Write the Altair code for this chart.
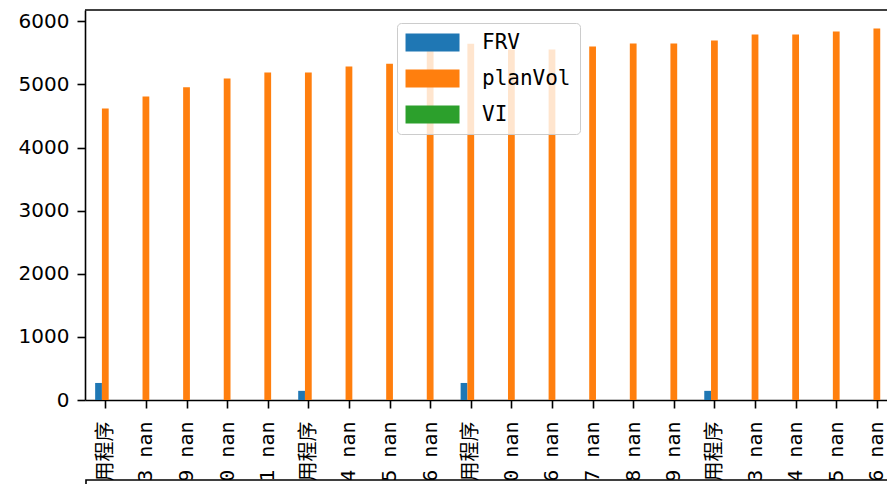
import json
import altair as alt
import pandas as pd

# ---- data ----
labels = [
    "2023-03-07 应用程序", "2023-03-13 nan", "2023-03-19 nan", "2023-03-20 nan",
    "2023-03-21 nan", "2023-03-22 应用程序", "2023-03-24 nan", "2023-03-25 nan",
    "2023-03-26 nan", "2023-03-27 应用程序", "2023-03-30 nan", "2023-04-06 nan",
    "2023-04-07 nan", "2023-04-08 nan", "2023-04-09 nan", "2023-04-10 应用程序",
    "2023-04-13 nan", "2023-04-14 nan", "2023-04-15 nan", "2023-04-16 nan",
]
frv = [270, 0, 0, 0, 0, 145, 0, 0, 0, 270, 0, 0, 0, 0, 0, 145, 0, 0, 0, 0]
plan_vol = [4620, 4810, 4955, 5095, 5190, 5190, 5285, 5330, 5560, 5645,
            5555, 5555, 5600, 5650, 5650, 5695, 5790, 5790, 5840, 5885]
vi = [0] * 20
series = ["FRV", "planVol", "VI"]
colors = ["#1f77b4", "#ff7f0e", "#2ca02c"]
y_ticks = [0, 1000, 2000, 3000, 4000, 5000, 6000]

rows = []
for i in range(len(labels)):
    for k, vals in enumerate([frv, plan_vol, vi]):
        rows.append({"idx": i, "k": k, "series": series[k], "value": vals[i]})
df = pd.DataFrame(rows)

W, H = 802, 390
label_expr = json.dumps(labels, ensure_ascii=False) + "[datum.value]"

bars = alt.Chart(df).transform_calculate(
    x0="datum.idx - 0.25 + datum.k / 6",
    x1="datum.idx - 0.25 + (datum.k + 1) / 6",
).mark_bar(strokeWidth=0).encode(
    x=alt.X("x0:Q", title=None,
            scale=alt.Scale(domain=[-0.5, 19.25], nice=False, zero=False),
            axis=alt.Axis(values=list(range(20)), labelExpr=label_expr,
                          labelAngle=270, labelFont="DejaVu Sans Mono, Noto Sans CJK SC",
                          labelFontSize=20, labelColor="black", labelPadding=13,
                          tickSize=8, tickWidth=1.6, tickColor="black",
                          domainColor="black", domainWidth=1.6, grid=False,
                          labelOverlap=False, labelLimit=0)),
    x2="x1:Q",
    y=alt.Y("value:Q", title=None,
            scale=alt.Scale(domain=[0, 6180], nice=False),
            axis=alt.Axis(values=y_ticks, format="d", labelFont="DejaVu Sans",
                          labelFontSize=20, labelColor="black", labelPadding=8,
                          tickSize=8, tickWidth=1.6, tickColor="black",
                          domainColor="black", domainWidth=1.6, grid=False)),
    y2=alt.datum(0),
    color=alt.Color("series:N", scale=alt.Scale(domain=series, range=colors),
                    legend=alt.Legend(title=None, orient="none", legendX=312, legendY=13,
                                      symbolType="M-1.22,-1H4.78V1H-1.22Z", symbolSize=324,
                                      symbolStrokeWidth=0, symbolOpacity=1,
                                      labelFont="DejaVu Sans Mono", labelFontSize=21,
                                      labelColor="black", labelOffset=55, padding=9,
                                      rowPadding=14, fillColor="rgba(255,255,255,0.8)",
                                      strokeColor="#cccccc", cornerRadius=4, zindex=1)),
)

top_spine = alt.Chart(pd.DataFrame({"a": [0]})).mark_rule(
    color="black", strokeWidth=1.6
).encode(x=alt.value(0), x2=alt.value(W + 20), y=alt.value(0))

bottom_box = alt.Chart(pd.DataFrame({"a": [0]})).mark_rect(
    fill="white", stroke="black", strokeWidth=1.6
).encode(x=alt.value(1), x2=alt.value(W + 40), y=alt.value(470), y2=alt.value(560))

chart = alt.layer(bars, top_spine, bottom_box).properties(
    width=W, height=H,
    autosize=alt.AutoSizeParams(type="none"),
    padding={"left": 77, "top": 2, "right": 0, "bottom": 84},
).configure_view(stroke=None)

chart.save("out.html", embed_options={"renderer": "svg", "actions": False})
